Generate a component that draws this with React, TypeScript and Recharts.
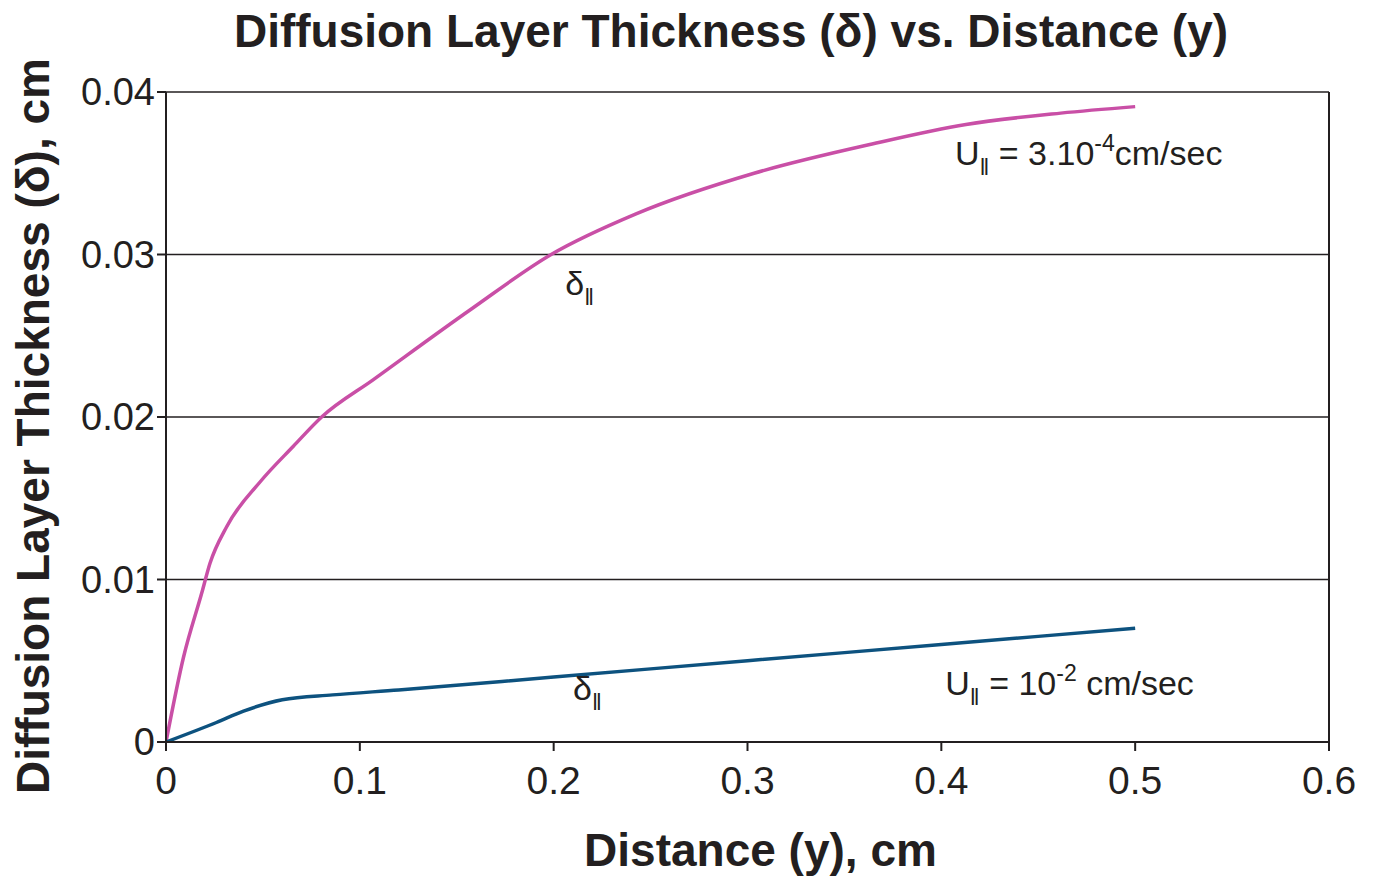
import React from "react";
import { LineChart, Line, XAxis, YAxis, CartesianGrid, ReferenceLine, ReferenceDot } from "recharts";

const xTicks = [0, 0.1, 0.2, 0.3, 0.4, 0.5, 0.6];
const yTicks = [0, 0.01, 0.02, 0.03, 0.04];

const slowX = [0, 0.009, 0.0184, 0.0227, 0.0313, 0.0485, 0.0657, 0.0803, 0.107, 0.157, 0.1987, 0.2425, 0.3034, 0.3643, 0.4127, 0.4616, 0.5];
const slowY = [0, 0.0052, 0.00915, 0.011, 0.01325, 0.016, 0.0182, 0.02, 0.0223, 0.0266, 0.03, 0.0325, 0.035, 0.0368, 0.038, 0.0387, 0.0391];

const fastX = [0, 0.026, 0.04, 0.06, 0.086, 0.12, 0.2, 0.3, 0.4, 0.5];
const fastY = [0, 0.0012, 0.0019, 0.0026, 0.0029, 0.0032, 0.004, 0.005, 0.006, 0.007];

const slowData = slowX.map((x, i) => ({ x, y: slowY[i] }));
const fastData = fastX.map((x, i) => ({ x, y: fastY[i] }));

const INK = "#231f20";
const FONT = "'Liberation Sans', Arial, sans-serif";

const fmt = (v: number) => (v === 0 ? "0" : String(v));

const annoSize = 34;
const subSize = 24;

const UText = ({ cx, cy, exp, rest }: any) => (
  <text x={cx} y={cy} fill={INK} fontFamily={FONT} fontSize={annoSize}>
    <tspan>U</tspan>
    <tspan fontSize={subSize} dy={10}>‖</tspan>
    <tspan dy={-10}>{" = " + (exp === "-4" ? "3.10" : "10")}</tspan>
    <tspan fontSize={23} dy={-14}>{exp}</tspan>
    <tspan dy={14}>{rest}</tspan>
  </text>
);

const DText = ({ cx, cy }: any) => (
  <text x={cx} y={cy} fill={INK} fontFamily={FONT} fontSize={annoSize}>
    <tspan>δ</tspan>
    <tspan fontSize={subSize} dy={10}>‖</tspan>
  </text>
);

const YLabel = () => (
  <text
    x={25}
    y={418}
    transform="rotate(-90, 25, 418)"
    textAnchor="middle"
    dominantBaseline="central"
    fill={INK}
    fontSize={46}
    fontWeight="bold"
    fontFamily={FONT}
  >
    Diffusion Layer Thickness (δ), cm
  </text>
);

export default function App() {
  return (
    <div style={{ position: "relative", width: 1360, height: 871, fontFamily: FONT }}>
      <div
        style={{
          position: "absolute",
          top: -2,
          left: 0,
          width: 1446,
          textAlign: "center",
          fontWeight: "bold",
          fontSize: 46,
          color: INK,
          lineHeight: "50px",
        }}
      >
        Diffusion Layer Thickness (δ) vs. Distance (y)
      </div>
      <LineChart
        width={1360}
        height={871}
        margin={{ top: 84, right: 39, left: 0, bottom: 77 }}
        style={{ position: "absolute", top: 0, left: 0, overflow: "visible" }}
      >
        <CartesianGrid horizontal vertical={false} stroke={INK} strokeWidth={1.5} />
        <XAxis
          type="number"
          dataKey="x"
          domain={[0, 0.6]}
          ticks={xTicks}
          tickFormatter={fmt}
          allowDataOverflow
          height={60}
          stroke={INK}
          strokeWidth={2}
          tickSize={9}
          tickMargin={15}
          tick={{ fill: INK, fontSize: 39, fontFamily: FONT }}
          label={{
            value: "Distance (y), cm",
            position: "insideBottom",
            offset: -64,
            dx: 13,
            fill: INK,
            fontSize: 46,
            fontWeight: "bold",
            fontFamily: FONT,
          }}
        />
        <YAxis
          type="number"
          dataKey="y"
          domain={[0, 0.04]}
          ticks={yTicks}
          tickFormatter={fmt}
          allowDataOverflow
          width={158}
          stroke={INK}
          strokeWidth={2}
          tickSize={9}
          tickMargin={2}
          tick={{ fill: INK, fontSize: 38, fontFamily: FONT }}
          label={{ content: () => <YLabel /> }}
        />
        <ReferenceLine x={0.6} stroke={INK} strokeWidth={2} />
        <Line
          data={slowData}
          dataKey="y"
          type="monotone"
          stroke="#c94fa6"
          strokeWidth={3.5}
          dot={false}
          isAnimationActive={false}
        />
        <Line
          data={fastData}
          dataKey="y"
          type="monotone"
          stroke="#0d527f"
          strokeWidth={3.5}
          dot={false}
          isAnimationActive={false}
        />
        <ReferenceDot x={0.407} y={0.0355} r={0} shape={(p: any) => <UText {...p} exp="-4" rest="cm/sec" />} />
        <ReferenceDot x={0.402} y={0.0029} r={0} shape={(p: any) => <UText {...p} exp="-2" rest=" cm/sec" />} />
        <ReferenceDot x={0.206} y={0.0275} r={0} shape={(p: any) => <DText {...p} />} />
        <ReferenceDot x={0.21} y={0.0026} r={0} shape={(p: any) => <DText {...p} />} />
      </LineChart>
    </div>
  );
}
